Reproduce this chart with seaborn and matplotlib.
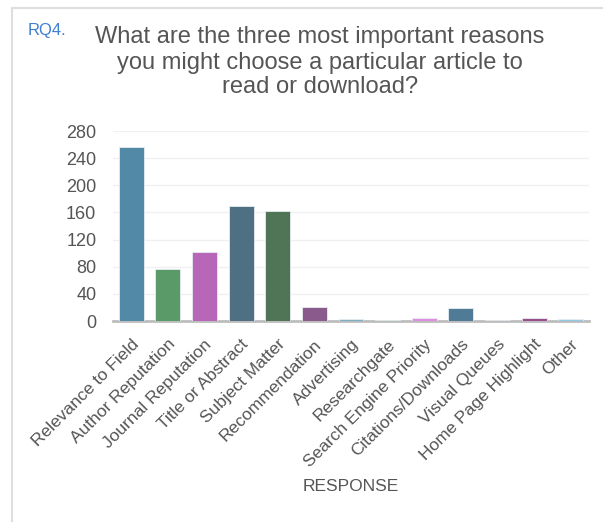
import matplotlib
matplotlib.use("Agg")
import matplotlib.pyplot as plt
from matplotlib.lines import Line2D
from matplotlib.transforms import ScaledTranslation
import seaborn as sns
import pandas as pd

responses = [
    "Relevance to Field", "Author Reputation", "Journal Reputation",
    "Title or Abstract", "Subject Matter", "Recommendation", "Advertising",
    "Researchgate", "Search Engine Priority", "Citations/Downloads",
    "Visual Queues", "Home Page Highlight", "Other",
]
counts = [257, 76, 101, 170, 162, 21, 3, 2, 4, 19, 1, 5, 3]
bar_colors = [
    "#5289a6", "#5a9a68", "#b866b8", "#4f6f82", "#4f7556", "#8b5a8c",
    "#7aafc9", "#8cc48c", "#e08ee0", "#4f7b96", "#aaaaaa", "#9a4f8c",
    "#8fc9e6",
]
y_ticks = [0, 40, 80, 120, 160, 200, 240, 280]
title_lines = [
    "What are the three most important reasons",
    "you might choose a particular article to",
    "read or download?",
]

sns.set_theme(style="white")
plt.rcParams["font.family"] = ["Liberation Sans", "DejaVu Sans"]
TEXT_GRAY = "#555555"

df = pd.DataFrame({"response": responses, "count": counts})

W, H = 603, 522
fig = plt.figure(figsize=(W / 100, H / 100), dpi=100)
ax = fig.add_axes([113 / W, 1 - 321 / H, 476 / W, 190 / H])

sns.barplot(data=df, x="response", y="count", hue="response",
            palette=bar_colors, saturation=1, legend=False, width=0.68,
            edgecolor="#e6edf1", linewidth=0.6, ax=ax, zorder=3)

ax.set_ylim(0, 280)
ax.set_xlim(-0.5, len(responses) - 0.5)
ax.set_yticks(y_ticks)
ax.yaxis.grid(True, color="#f0f0f0", linewidth=1.0, zorder=0)
ax.set_axisbelow(True)
for side in ["top", "right", "left"]:
    ax.spines[side].set_visible(False)
ax.spines["bottom"].set_color("#bdbdbd")
ax.spines["bottom"].set_linewidth(2.0)
ax.tick_params(axis="y", labelsize=13, labelcolor=TEXT_GRAY, length=0, pad=12)
ax.tick_params(axis="x", labelsize=12.5, labelcolor=TEXT_GRAY, length=0, pad=15)

shift = ScaledTranslation(5 / 100, 0, fig.dpi_scale_trans)
for lab in ax.get_xticklabels():
    lab.set_rotation(45)
    lab.set_ha("right")
    lab.set_va("center")
    lab.set_rotation_mode("anchor")
    lab.set_transform(lab.get_transform() + shift)

ax.set_ylabel("")
ax.set_xlabel("RESPONSE", fontsize=12.5, color=TEXT_GRAY)
ax.xaxis.set_label_coords(0.5, -0.83)

# three-line question, each line on its own baseline
for text, y in zip(title_lines, [43.5, 68.5, 93]):
    fig.text(320 / W, 1 - y / H, text, ha="center", va="baseline",
             fontsize=17, color=TEXT_GRAY)
fig.text(28 / W, 1 - 35 / H, "RQ4.", ha="left", va="baseline",
         fontsize=12, color="#3f7fd0")

# light border around the panel
fig.add_artist(Line2D([11.5 / W, 1.0], [1 - 7.5 / H, 1 - 7.5 / H],
                      color="#dedede", linewidth=1.5))
fig.add_artist(Line2D([11.5 / W, 11.5 / W], [0.0, 1 - 7.5 / H],
                      color="#dedede", linewidth=1.5))

fig.savefig("out.png", dpi=100, facecolor="white")
